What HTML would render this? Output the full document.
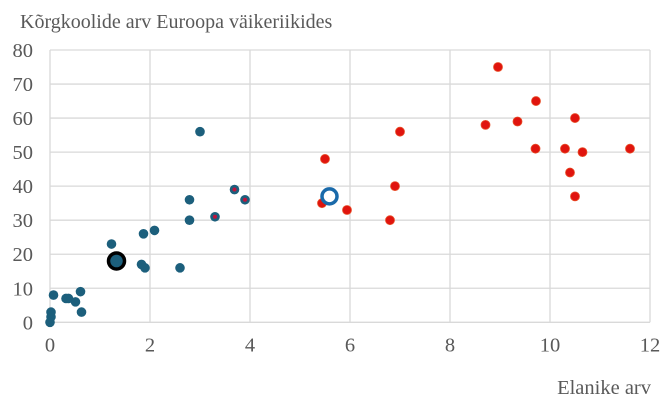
<!DOCTYPE html>
<html><head><meta charset="utf-8"><style>
body{margin:0;background:#fff;}
svg{display:block;font-family:"Liberation Serif",serif;}
</style></head><body>
<svg id="chart" width="672" height="403" viewBox="0 0 672 403">
<text x="20" y="28" font-size="20" fill="#595959">Kõrgkoolide arv Euroopa väikeriikides</text>
<g id="grid"></g><g id="ticks"></g><g id="marks"></g>
<text x="651" y="394" font-size="20.5" fill="#595959" text-anchor="end">Elanike arv</text>
</svg>
<script>
const xTicks=[0,2,4,6,8,10,12];
const yTicks=[0,10,20,30,40,50,60,70,80];
const tealX=[3.0,3.69,3.9,2.79,2.79,3.3,2.09,1.87,1.23,1.83,1.9,2.6,0.07,0.32,0.37,0.51,0.61,0.63,0.02,0.02,0];
const tealY=[56,39,36,36,30,31,27,26,23,17,16,16,8,7,7,6,9,3,3,1.6,0];
const redInnerX=[3.69,3.9,3.3];
const redInnerY=[39,36,31];
const redX=[8.96,9.72,10.5,8.71,9.35,7.0,9.71,10.3,10.65,11.6,5.5,10.4,6.9,10.5,5.44,5.94,6.8];
const redY=[75,65,60,58,59,56,51,51,50,51,48,44,40,37,35,33,30];
const highlightX=[1.33], highlightY=[18];
const hollowX=[5.59], hollowY=[37];
const X0=50,X1=650,Y0=322.3,Y1=50;
const sx=v=>X0+(X1-X0)*v/12, sy=v=>Y0-(Y0-Y1)*v/80;
const NS="http://www.w3.org/2000/svg";
function mk(t,p,a){const e=document.createElementNS(NS,t);for(const k in a)e.setAttribute(k,a[k]);p.appendChild(e);return e;}
const grid=document.getElementById('grid'),ticks=document.getElementById('ticks'),marks=document.getElementById('marks');
xTicks.forEach(v=>{const l=mk('line',grid,{x1:sx(v),x2:sx(v),y1:Y1,y2:Y0,stroke:'#d9d9d9','stroke-width':1.3});


const t=mk('text',ticks,{x:sx(v),y:Y0+29,'font-size':20.5,fill:'#595959','text-anchor':'middle'});t.textContent=v;

});
yTicks.forEach(v=>{const l=mk('line',grid,{x1:X0,x2:X1,y1:sy(v),y2:sy(v),stroke:'#d9d9d9','stroke-width':1.3});


const t=mk('text',ticks,{x:33,y:sy(v)+7,'font-size':20.5,fill:'#595959','text-anchor':'end'});t.textContent=v;

});
redX.forEach((x,i)=>{const c=mk('circle',marks,{cx:sx(x),cy:sy(redY[i]),r:4.5,fill:'#e0140e',stroke:'#e8502a','stroke-width':0.8});

});
tealX.forEach((x,i)=>{const c=mk('circle',marks,{cx:sx(x),cy:sy(tealY[i]),r:4.8,fill:'#1c5f7c'});

});
redInnerX.forEach((x,i)=>{const c=mk('circle',marks,{cx:sx(x),cy:sy(redInnerY[i]),r:2,fill:'#c0143c'});

});
highlightX.forEach((x,i)=>{const c=mk('circle',marks,{cx:sx(x),cy:sy(highlightY[i]),r:8,fill:'#1c5f7c',stroke:'#000','stroke-width':3.5});

});
hollowX.forEach((x,i)=>{const c=mk('circle',marks,{cx:sx(x),cy:sy(hollowY[i]),r:7.5,fill:'#fff',stroke:'#1a6aaa','stroke-width':3.5});

});
</script>
</body></html>
